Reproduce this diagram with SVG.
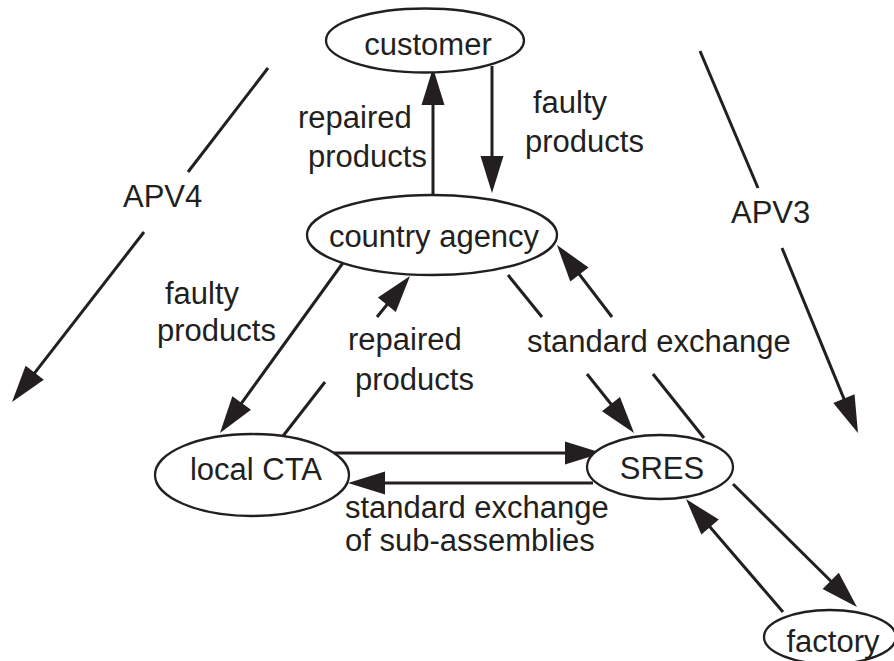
<svg xmlns="http://www.w3.org/2000/svg" width="894" height="661" viewBox="0 0 894 661">
  <style>
    .node ellipse { fill: #ffffff; stroke: #231f20; stroke-width: 2.3; }
    text { font-family: "Liberation Sans", Arial, sans-serif; font-size: 31px; fill: #231f20; }
    .mid { text-anchor: middle; }
    .edges line { stroke: #231f20; stroke-width: 3; fill: none; }
  </style>
  <defs>
    <marker id="arrow" markerUnits="userSpaceOnUse" markerWidth="37" markerHeight="23" refX="31" refY="11.5" orient="auto" overflow="visible">
      <path d="M0,0 L37,11.5 L0,23 Z" fill="#231f20"/>
    </marker>
  </defs>
  <rect width="894" height="661" fill="#ffffff"/>

  <!-- connectors; gaps leave room for the labels -->
  <g id="edges" class="edges">
    <!-- country agency -> customer -->
    <line x1="433" y1="200" x2="433" y2="74" marker-end="url(#arrow)"/>
    <!-- customer -> country agency -->
    <line x1="492" y1="66" x2="492" y2="187" marker-end="url(#arrow)"/>
    <!-- APV4 -->
    <line x1="268" y1="68" x2="188" y2="172"/>
    <line x1="144" y1="232" x2="15.7" y2="397.3" marker-end="url(#arrow)"/>
    <!-- APV3 -->
    <line x1="700" y1="51" x2="758" y2="188"/>
    <line x1="782" y1="248" x2="855.7" y2="427.4" marker-end="url(#arrow)"/>
    <!-- country agency -> local CTA -->
    <line x1="345" y1="260" x2="223.5" y2="428.1" marker-end="url(#arrow)"/>
    <!-- local CTA -> country agency -->
    <line x1="283" y1="436" x2="325" y2="382"/>
    <line x1="377" y1="317" x2="406.3" y2="280.7" marker-end="url(#arrow)"/>
    <!-- country agency -> SRES -->
    <line x1="508" y1="275" x2="542" y2="317"/>
    <line x1="587" y1="374" x2="630.3" y2="428.3" marker-end="url(#arrow)"/>
    <!-- SRES -> country agency -->
    <line x1="704" y1="438" x2="653" y2="374"/>
    <line x1="612" y1="317" x2="560.6" y2="249.8" marker-end="url(#arrow)"/>
    <!-- local CTA <-> SRES -->
    <line x1="332" y1="453" x2="596" y2="453" marker-end="url(#arrow)"/>
    <line x1="593" y1="483" x2="354" y2="483" marker-end="url(#arrow)"/>
    <!-- SRES <-> factory -->
    <line x1="733" y1="484" x2="852.7" y2="602.8" marker-end="url(#arrow)"/>
    <line x1="783" y1="612" x2="689.9" y2="503.6" marker-end="url(#arrow)"/>
  </g>

  <!-- nodes -->
  <g id="customer" class="node">
    <ellipse cx="425" cy="40.5" rx="99" ry="32"/>
    <text x="428" y="55" class="mid">customer</text>
  </g>
  <g id="country-agency" class="node">
    <ellipse cx="432" cy="235" rx="125" ry="40"/>
    <text x="434" y="247" class="mid">country agency</text>
  </g>
  <g id="local-cta" class="node">
    <ellipse cx="252" cy="475" rx="97" ry="41"/>
    <text x="256" y="480" class="mid">local CTA</text>
  </g>
  <g id="sres" class="node">
    <ellipse cx="660" cy="467" rx="73" ry="32"/>
    <text x="662" y="479" class="mid">SRES</text>
  </g>
  <g id="factory" class="node">
    <ellipse cx="830" cy="637" rx="66" ry="27"/>
    <text x="833" y="652" class="mid">factory</text>
  </g>

  <!-- edge labels -->
  <g id="labels">
    <text x="298" y="128">repaired</text>
    <text x="308" y="167">products</text>
    <text x="533" y="113">faulty</text>
    <text x="525" y="152">products</text>
    <text x="123" y="207">APV4</text>
    <text x="731" y="223">APV3</text>
    <text x="165" y="304">faulty</text>
    <text x="157" y="341">products</text>
    <text x="348" y="350">repaired</text>
    <text x="355" y="390">products</text>
    <text x="527" y="352">standard exchange</text>
    <text x="345" y="518">standard exchange</text>
    <text x="345" y="551">of sub-assemblies</text>
  </g>
</svg>
